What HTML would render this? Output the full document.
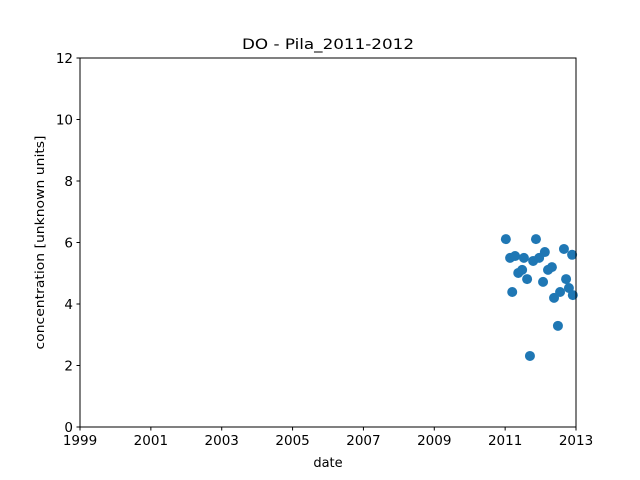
<!DOCTYPE html>
<html><head><meta charset="utf-8"><style>body{margin:0;background:#fff}svg{display:block}text{font-family:"DejaVu Sans","Liberation Sans",sans-serif;fill:#000}</style></head>
<body>
<svg id="chart" width="640" height="480">
<rect width="640" height="480" fill="#fff"/>
<text x="328" y="49" font-size="14.4" text-anchor="middle" textLength="172" lengthAdjust="spacingAndGlyphs">DO - Pila_2011-2012</text>
<g id="ticks"></g>
<g id="marks"></g>
<rect x="80" y="58" width="496" height="369" fill="none" stroke="#000" stroke-width="1"/>
<text x="328" y="467" font-size="13" text-anchor="middle">date</text>
<text transform="translate(44,242.5) rotate(-90)" font-size="12" text-anchor="middle" textLength="214" lengthAdjust="spacingAndGlyphs">concentration [unknown units]</text>
</svg>
<script>
const dates=[2011.02,2011.14,2011.28,2011.20,2011.37,2011.48,2011.53,2011.62,2011.70,2011.79,2011.87,2011.96,2012.07,2012.12,2012.21,2012.32,2012.38,2012.49,2012.55,2012.66,2012.72,2012.80,2012.89,2012.91];
const values=[6.11,5.50,5.56,4.39,5.01,5.11,5.50,4.81,2.31,5.40,6.11,5.50,4.72,5.69,5.11,5.20,4.20,3.29,4.39,5.79,4.81,4.52,5.60,4.29];
const xTicks=[1999,2001,2003,2005,2007,2009,2011,2013];
const yTicks=[0,2,4,6,8,10,12];
const NS='http://www.w3.org/2000/svg';
const L=80,R=576,T=58,B=427;
function xs(v){return L+(v-1999)/(2013-1999)*(R-L);}
function ys(v){return B-v/12*(B-T);}
const tk=document.getElementById('ticks');
function mk(tag,a,p){const e=document.createElementNS(NS,tag);for(const k in a)e.setAttribute(k,a[k]);p.appendChild(e);return e;}
xTicks.forEach(t=>{
  const l=mk('line',{x1:xs(t),x2:xs(t),y1:B,y2:B+3.5,stroke:'#000'},tk);
  
  
  const tx=mk('text',{x:xs(t),y:B+18,'font-size':13.5,'text-anchor':'middle'},tk);tx.textContent=t;
  
  
});
yTicks.forEach(t=>{
  const l=mk('line',{x1:L-3.5,x2:L,y1:ys(t),y2:ys(t),stroke:'#000'},tk);
  
  
  const tx=mk('text',{x:L-7,y:ys(t)+5,'font-size':13.5,'text-anchor':'end'},tk);tx.textContent=t;
  
  
});
const mg=document.getElementById('marks');
dates.forEach((d,i)=>{
  const c=mk('circle',{cx:xs(d),cy:ys(values[i]),r:5,fill:'#1f77b4'},mg);
  
  
});
</script>
</body></html>
